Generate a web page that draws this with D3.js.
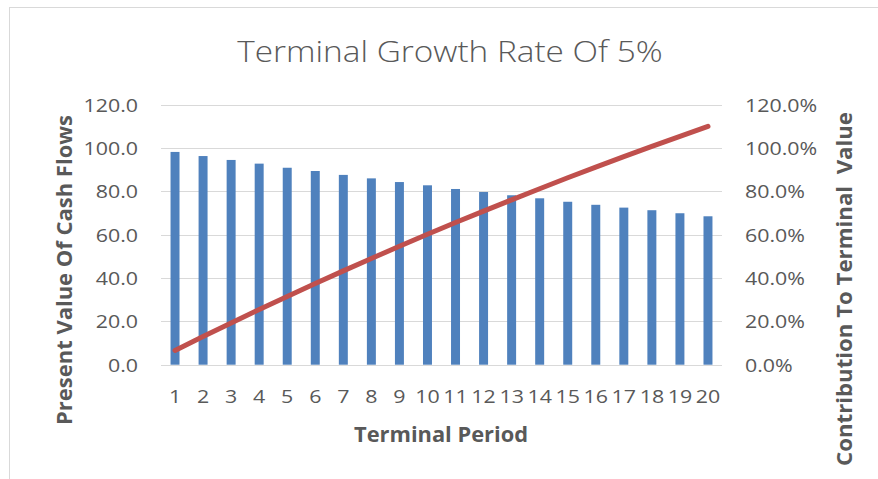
<!DOCTYPE html>
<html>
<head>
<meta charset="utf-8">
<script src="https://cdn.jsdelivr.net/npm/d3@7"></script>
<style>
  html, body { margin: 0; padding: 0; background: #fff; }
  svg text { font-family: "Open Sans", "Noto Sans", sans-serif; fill: #595959; }
</style>
</head>
<body>
<svg id="chart" width="878" height="479"></svg>
<script>
const categories = ["1","2","3","4","5","6","7","8","9","10","11","12","13","14","15","16","17","18","19","20"];
const presentValues = [98.2, 96.3, 94.5, 92.8, 90.9, 89.4, 87.6, 86.0, 84.3, 82.8, 81.1, 79.7, 78.2, 76.8, 75.2, 73.8, 72.5, 71.3, 69.9, 68.5];
const contribution = [0.066, 0.130, 0.193, 0.255, 0.315, 0.375, 0.433, 0.490, 0.547, 0.602, 0.656, 0.709, 0.761, 0.812, 0.863, 0.912, 0.960, 1.008, 1.054, 1.100];
const leftTicks = [0, 20, 40, 60, 80, 100, 120];
const rightTicks = [0, 0.2, 0.4, 0.6, 0.8, 1.0, 1.2];
const titleText = "Terminal Growth Rate Of 5%";
const xTitle = "Terminal Period";
const yLeftTitle = "Present Value Of Cash Flows";
const yRightTitle = "Contribution To Terminal  Value";

const svg = d3.select("#chart");
const plot = { left: 161, right: 722, top: 104.7, bottom: 364.7 };
const STRETCH = 1.15;

function stretch(sel) {
  sel.each(function() {
    const w = this.getComputedTextLength();
    if (w > 0) {
      d3.select(this).attr("textLength", w * STRETCH).attr("lengthAdjust", "spacingAndGlyphs");
    }
  });
}

// chart area border
svg.append("rect")
  .attr("x", 9.5).attr("y", 7.5)
  .attr("width", 900).attr("height", 500)
  .attr("fill", "none").attr("stroke", "#d9d9d9").attr("stroke-width", 1);

const x = d3.scaleBand().domain(categories).range([plot.left, plot.right])
  .paddingInner(0.68).paddingOuter(0.34);
const yL = d3.scaleLinear().domain([0, 120]).range([plot.bottom, plot.top]);
const yR = d3.scaleLinear().domain([0, 1.2]).range([plot.bottom, plot.top]);

// gridlines
svg.append("g").selectAll("line").data(leftTicks).join("line")
  .attr("x1", plot.left).attr("x2", plot.right)
  .attr("y1", d => Math.round(yL(d)) + 0.5).attr("y2", d => Math.round(yL(d)) + 0.5)
  .attr("stroke", "#d9d9d9").attr("stroke-width", 1);

// left axis labels
const gL = svg.append("g").attr("transform", `translate(${plot.left - 23},0)`)
  .call(d3.axisLeft(yL).tickValues(leftTicks).tickFormat(d3.format(".1f")).tickSize(0).tickPadding(0));
gL.select(".domain").remove();
gL.selectAll("text").attr("font-size", 18.6).attr("fill", "#595959")
  .style("font-family", '"Open Sans", sans-serif').attr("dy", "0.35em");
stretch(gL.selectAll("text"));

// right axis labels
const gR = svg.append("g").attr("transform", `translate(${plot.right + 23},0)`)
  .call(d3.axisRight(yR).tickValues(rightTicks).tickFormat(d3.format(".1%")).tickSize(0).tickPadding(0));
gR.select(".domain").remove();
gR.selectAll("text").attr("font-size", 18.6).attr("fill", "#595959")
  .style("font-family", '"Open Sans", sans-serif').attr("dy", "0.35em");
stretch(gR.selectAll("text"));

// bottom axis labels
const gB = svg.append("g").attr("transform", `translate(0,${plot.bottom + 32})`)
  .call(d3.axisBottom(x).tickSize(0).tickPadding(0));
gB.select(".domain").remove();
gB.selectAll("text").attr("font-size", 18.6).attr("fill", "#595959")
  .style("font-family", '"Open Sans", sans-serif').attr("dy", "0.35em");
stretch(gB.selectAll("text"));

// bars
svg.append("g").selectAll("rect").data(presentValues).join("rect")
  .attr("x", (d, i) => x(categories[i]))
  .attr("width", x.bandwidth())
  .attr("y", d => yL(d))
  .attr("height", d => yL(0) - yL(d))
  .attr("fill", "#4f81bd");

// line
const line = d3.line()
  .x((d, i) => x(categories[i]) + x.bandwidth() / 2)
  .y(d => yR(d));
svg.append("path").datum(contribution)
  .attr("d", line)
  .attr("fill", "none").attr("stroke", "#c0504d")
  .attr("stroke-width", 5).attr("stroke-linecap", "round").attr("stroke-linejoin", "round");

// title
const t = svg.append("text").attr("x", 450).attr("y", 62).attr("text-anchor", "middle")
  .attr("font-size", 29).attr("font-weight", 300).text(titleText);
stretch(t);

// x title
svg.append("text").attr("x", 441).attr("y", 442).attr("text-anchor", "middle")
  .attr("font-size", 20.5).attr("font-weight", 700)
  .attr("textLength", 174).attr("lengthAdjust", "spacingAndGlyphs")
  .text(xTitle);

// left y title
svg.append("text").attr("transform", "translate(72,270) rotate(-90)")
  .attr("text-anchor", "middle").attr("font-size", 20.5).attr("font-weight", 700)
  .attr("textLength", 310).attr("lengthAdjust", "spacingAndGlyphs")
  .text(yLeftTitle);

// right y title
svg.append("text").attr("transform", "translate(852,289) rotate(-90)")
  .attr("text-anchor", "middle").attr("font-size", 20.5).attr("font-weight", 700)
  .attr("textLength", 354).attr("lengthAdjust", "spacingAndGlyphs")
  .style("white-space", "pre")
  .text(yRightTitle);
</script>
</body>
</html>
